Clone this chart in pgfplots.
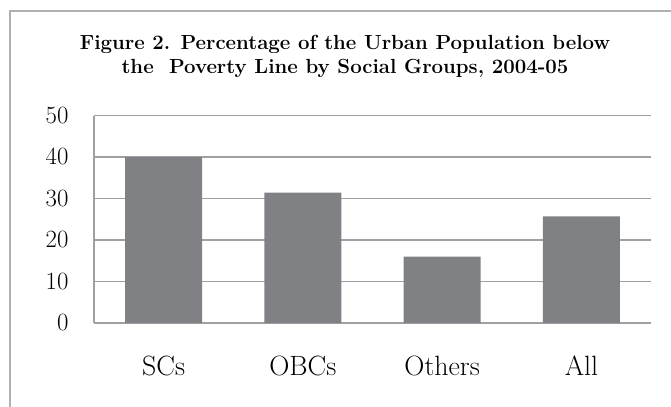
\documentclass[border=0pt]{standalone}
\usepackage{pgfplots}
\pgfplotsset{compat=1.18}
\definecolor{barfill}{RGB}{128,129,133}
\definecolor{gridc}{RGB}{160,160,162}
\definecolor{framec}{RGB}{176,176,176}
\begin{document}
\begin{tikzpicture}[x=1bp,y=1bp]
\useasboundingbox (0,0) rectangle (671,406);
\begin{scope}
\clip (0,0) rectangle (671,406);
\draw[framec, line width=1.5bp] (10,-10) -- (10,395) -- (690,395);
\end{scope}
\node[align=center, font=\fontsize{20.5}{24}\selectfont\bfseries] at (345,349.5)
  {Figure 2. Percentage of the Urban Population below\\the\ \ Poverty Line by Social Groups, 2004-05};
\begin{axis}[
  at={(94bp,83bp)}, anchor=south west,
  scale only axis, width=557bp, height=207.5bp,
  xmin=-0.5, xmax=3.5, ymin=0, ymax=50,
  ytick={0,10,20,30,40,50},
  xtick={0,1,2,3}, xticklabels={SCs,OBCs,Others,All},
  axis x line*=bottom, axis y line*=left,
  axis line style={gridc, line width=1.5bp, -},
  ymajorgrids, grid style={gridc, line width=1.5bp},
  major tick length=0pt,
  tick label style={font=\fontsize{28}{32}\selectfont},
  yticklabel style={xshift=-22bp},
  xticklabel style={yshift=-29bp},
  ybar, bar width=77bp,
]
\addplot[fill=barfill, draw=none] coordinates {(0,40.0) (1,31.4) (2,16.0) (3,25.7)};
\end{axis}
\end{tikzpicture}
\end{document}
